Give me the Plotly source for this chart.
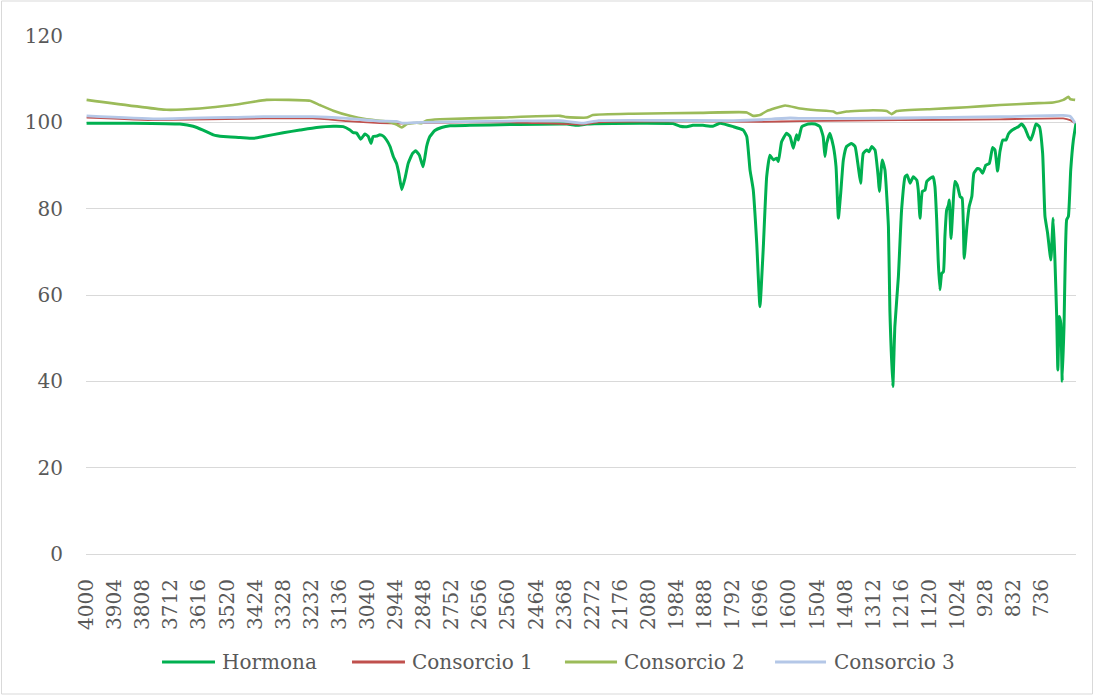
import plotly.graph_objects as go

# ---- data ----
x_ticks = [4000, 3904, 3808, 3712, 3616, 3520, 3424, 3328, 3232, 3136, 3040, 2944,
           2848, 2752, 2656, 2560, 2464, 2368, 2272, 2176, 2080, 1984, 1888, 1792,
           1696, 1600, 1504, 1408, 1312, 1216, 1120, 1024, 928, 832, 736]

hormona_wn = [4000, 3841, 3681, 3636, 3602, 3567, 3533, 3476, 3431, 3396, 3328, 3271,
              3214, 3157, 3123, 3100, 3089, 3077, 3063, 3049, 3038, 3028, 3021, 3009,
              2998, 2986, 2975, 2963, 2952, 2941, 2933, 2923, 2912, 2901, 2886, 2875,
              2863, 2850, 2838, 2827, 2810, 2787, 2758, 2690, 2553, 2359, 2324, 2290,
              2109, 1996, 1972, 1949, 1928, 1894, 1860, 1836, 1790, 1756, 1744, 1733,
              1722, 1710, 1699, 1688, 1676, 1665, 1653, 1642, 1636, 1625, 1608, 1596,
              1585, 1574, 1568, 1556, 1534, 1511, 1494, 1483, 1477, 1471, 1460, 1448,
              1439, 1431, 1423, 1414, 1403, 1386, 1374, 1363, 1355, 1346, 1334, 1326,
              1317, 1306, 1295, 1291, 1281, 1272, 1260, 1255, 1245, 1238, 1226, 1215,
              1203, 1196, 1186, 1175, 1163, 1158, 1152, 1144, 1135, 1129, 1118, 1107,
              1101, 1095, 1090, 1084, 1078, 1072, 1067, 1061, 1055, 1052, 1046, 1040,
              1033, 1025, 1015, 1008, 1001, 992, 984, 975, 968, 956, 947, 938,
              927, 915, 904, 896, 887, 879, 869, 858, 850, 839, 827, 816,
              805, 793, 782, 774, 765, 756, 744, 733, 725, 716, 705, 697,
              691, 685, 681, 676, 671, 666, 660, 651, 645, 637, 628, 619]
hormona_val = [99.8, 99.8, 99.6, 99.1, 98.2, 97.1, 96.7, 96.5, 96.3, 96.7, 97.6, 98.2,
               98.8, 99.1, 99.0, 98.2, 97.6, 97.5, 96.1, 97.3, 96.8, 95.1, 96.7, 96.8,
               97.1, 96.8, 95.9, 94.4, 92.1, 90.5, 88.2, 84.4, 87.0, 90.5, 92.8, 93.4,
               92.4, 89.7, 94.4, 96.7, 98.1, 98.8, 99.2, 99.3, 99.5, 99.6, 99.3, 99.6,
               99.8, 99.7, 99.1, 99.0, 99.3, 99.3, 99.1, 99.8, 99.0, 98.2, 96.7, 89.0,
               84.4, 72.0, 57.3, 70.4, 87.4, 92.4, 91.3, 91.7, 90.9, 95.5, 97.5, 96.7,
               94.0, 97.1, 95.9, 99.0, 99.6, 99.6, 99.0, 96.7, 92.1, 95.1, 97.5, 94.4,
               89.7, 77.8, 83.6, 91.3, 94.4, 95.1, 94.4, 89.7, 85.9, 92.8, 93.6, 93.2,
               94.4, 93.6, 87.4, 84.0, 91.3, 89.0, 75.8, 56.5, 38.8, 52.7, 64.2, 79.7,
               87.4, 87.8, 85.9, 87.4, 86.6, 84.3, 77.8, 84.0, 84.3, 86.3, 87.0, 87.4,
               85.1, 77.4, 68.1, 61.2, 65.0, 65.4, 73.5, 79.7, 80.8, 82.0, 73.1, 79.7,
               86.3, 85.5, 82.8, 82.4, 68.5, 75.8, 80.5, 82.8, 88.2, 89.3, 89.1, 88.2,
               90.1, 90.5, 94.2, 93.6, 88.7, 93.2, 95.9, 95.9, 97.3, 98.1, 98.6, 99.0,
               99.6, 98.6, 96.7, 95.9, 97.5, 99.6, 99.0, 92.8, 78.2, 74.3, 68.1, 77.8,
               68.1, 55.0, 42.6, 55.0, 53.4, 40.0, 52.7, 77.4, 78.2, 89.0, 95.9, 99.8]

consorcio1_wn = [4000, 3761, 3396, 3227, 3111, 2998, 2930, 2827, 2553, 2304, 2250,
                 1904, 1699, 1562, 1220, 879, 663, 639, 622]
consorcio1_val = [101.1, 100.5, 100.9, 100.9, 100.3, 99.8, 99.7, 99.9, 100.0, 99.5, 100.0,
                  100.2, 100.1, 100.3, 100.5, 100.7, 100.9, 100.5, 99.8]

consorcio2_wn = [4000, 3727, 3613, 3499, 3385, 3237, 3203, 3157, 3100, 3043, 2975, 2941,
                 2923, 2906, 2872, 2855, 2838, 2793, 2588, 2382, 2360, 2291, 2270, 2133,
                 1904, 1744, 1722, 1699, 1676, 1613, 1562, 1505, 1448, 1437, 1403, 1312,
                 1266, 1249, 1232, 1107, 992, 879, 765, 697, 662, 645, 639, 622]
consorcio2_val = [105.2, 102.9, 103.2, 104.0, 105.2, 105.0, 104.0, 102.7, 101.5, 100.7,
                  100.2, 99.5, 98.8, 99.6, 99.9, 99.8, 100.4, 100.7, 101.1, 101.5, 101.2,
                  101.1, 101.7, 102.0, 102.2, 102.3, 101.5, 101.7, 102.6, 103.9, 103.2,
                  102.8, 102.5, 102.1, 102.5, 102.8, 102.6, 101.9, 102.6, 103.1, 103.5,
                  104.0, 104.4, 104.6, 105.2, 105.9, 105.4, 105.2]

consorcio3_wn = [4000, 3761, 3396, 3227, 3111, 2998, 2941, 2919, 2860, 2553, 2382, 2304,
                 2250, 1790, 1699, 1596, 1562, 1220, 879, 663, 639, 622]
consorcio3_val = [101.5, 100.8, 101.3, 101.3, 100.9, 100.3, 100.2, 99.8, 100.0, 100.3,
                  100.4, 99.8, 100.4, 100.4, 100.6, 101.0, 100.9, 101.0, 101.3, 101.6,
                  101.4, 99.8]

series_names = ["Hormona", "Consorcio 1", "Consorcio 2", "Consorcio 3"]
series_colors = ["#00B050", "#C0504D", "#9BBB59", "#B4C7E7"]
series_widths = [3, 1.8, 2.6, 2.8]

FONT = "DejaVu Serif"
GREY = "#595959"

fig = go.Figure()
data = [(hormona_wn, hormona_val), (consorcio1_wn, consorcio1_val),
        (consorcio2_wn, consorcio2_val), (consorcio3_wn, consorcio3_val)]
for (xs, ys), name, col, w in zip(data, series_names, series_colors, series_widths):
    fig.add_trace(go.Scatter(x=xs, y=ys, mode="lines", name=name, showlegend=False,
                             line=dict(color=col, width=w, shape="spline", smoothing=0.4)))

# Excel-style legend below the plot (long line keys)
legend_line_x = [(0.0768, 0.1303), (0.2687, 0.3222), (0.4838, 0.5364), (0.6960, 0.7475)]
legend_text_x = [0.1354, 0.3273, 0.5414, 0.7535]
legend_y = -0.2085
shapes = [dict(type="rect", xref="paper", yref="paper",
               x0=-84.5 / 990, x1=1 + 16.5 / 990, y0=-140.0 / 518, y1=1 + 35.0 / 518,
               line=dict(color="#D9D9D9", width=1), layer="below")]
annotations = []
for (x0, x1), tx, name, col in zip(legend_line_x, legend_text_x, series_names, series_colors):
    shapes.append(dict(type="line", xref="paper", yref="paper", x0=x0, x1=x1,
                       y0=legend_y, y1=legend_y, line=dict(color=col, width=3)))
    annotations.append(dict(xref="paper", yref="paper", x=tx, y=legend_y, text=name,
                            showarrow=False, xanchor="left", yanchor="middle",
                            font=dict(family=FONT, size=20, color=GREY)))

fig.update_layout(
    width=1094, height=695,
    margin=dict(l=86, r=18, t=36, b=141),
    paper_bgcolor="white", plot_bgcolor="white",
    font=dict(family=FONT, size=20, color=GREY),
    showlegend=False,
    shapes=shapes, annotations=annotations,
)
fig.update_xaxes(
    range=[4002, 619], tickmode="array", tickvals=x_ticks,
    ticktext=[str(t) for t in x_ticks], tickangle=-90,
    showgrid=False, zeroline=False, showline=True, linecolor="#D9D9D9", linewidth=1,
    ticks="", tickfont=dict(family=FONT, size=20, color=GREY), ticklabelstandoff=16,
)
fig.update_yaxes(
    range=[0, 120], dtick=20, tick0=0, showgrid=True, gridcolor="#D9D9D9", gridwidth=1,
    zeroline=False, showline=False, ticks="",
    tickfont=dict(family=FONT, size=20, color=GREY), ticklabelstandoff=22,
)

fig.write_html("out.html", config={"displayModeBar": False},
               post_script="document.body.style.margin='0px';")
